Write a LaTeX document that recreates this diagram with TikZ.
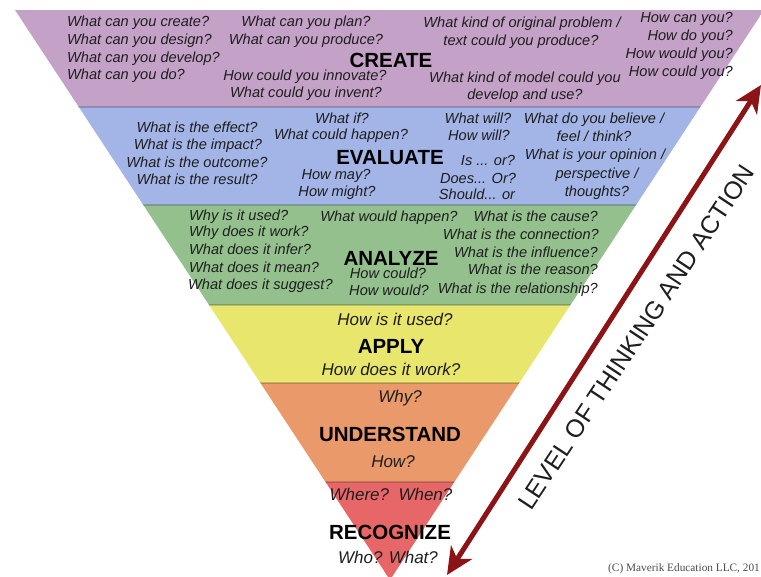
\documentclass[tikz,border=0pt]{standalone}
\usepackage{fontspec}
\setmainfont{Liberation Sans}
\newfontfamily\cprfont{Liberation Serif}
\usetikzlibrary{arrows.meta}
\definecolor{createc}{RGB}{196,161,198}
\definecolor{evalc}{RGB}{163,180,230}
\definecolor{analc}{RGB}{147,192,141}
\definecolor{applyc}{RGB}{232,230,108}
\definecolor{undc}{RGB}{234,153,106}
\definecolor{recc}{RGB}{231,103,105}
\definecolor{arrowc}{RGB}{140,20,22}
\definecolor{txt}{RGB}{30,30,30}
\newcommand\qsmall{\fontsize{14.6}{17}\selectfont\itshape}
\newcommand\qlarge{\fontsize{17}{20}\selectfont\itshape}
\newcommand\hdfont{\fontsize{20.5}{24}\selectfont\bfseries}
\tikzset{
  qbase/.style={inner sep=0pt, text=txt, font=\qsmall},
  qc/.style={qbase, anchor=mid},
  qlft/.style={qbase, anchor=mid west},
  qrt/.style={qbase, anchor=mid east},
  qbig/.style={inner sep=0pt, text=txt, font=\qlarge, anchor=mid},
  headn/.style={inner sep=0pt, text=black, font=\hdfont, anchor=center},
  bandline/.style={draw=black, draw opacity=0.18, line width=1.2pt},
  arrowln/.style={draw=arrowc, line width=5pt,
    arrows={Stealth[length=27pt,width=25pt,inset=8pt]-Stealth[length=27pt,width=25pt,inset=8pt]}},
}
\begin{document}
\begin{tikzpicture}[x=1pt,y=-1pt]
\useasboundingbox (0,0) rectangle (761,577);
\fill[white] (0,0) rectangle (761,577);
\begin{scope}
  \clip (15,10) -- (764,10) -- (390,580) -- cycle;
  \fill[createc] (0,10) rectangle (761,107);
  \fill[evalc]   (0,107) rectangle (761,205);
  \fill[analc]   (0,205) rectangle (761,305);
  \fill[applyc]  (0,305) rectangle (761,383);
  \fill[undc]    (0,383) rectangle (761,482);
  \fill[recc]    (0,482) rectangle (761,590);
  \draw[bandline] (0,107) -- (761,107);
  \draw[bandline] (0,205) -- (761,205);
  \draw[bandline] (0,305) -- (761,305);
  \draw[bandline] (0,383) -- (761,383);
  \draw[bandline] (0,482) -- (761,482);
\end{scope}

% CREATE
\node[qlft] (c1) at (67,24) {What can you create?};
\node[qlft] (c2) at (67,42) {What can you design?};
\node[qlft] (c3) at (67,60) {What can you develop?};
\node[qlft] (c4) at (67,77) {What can you do?};
\node[qc] (c5) at (306,24) {What can you plan?};
\node[qc] (c6) at (306,42) {What can you produce?};
\node[qc] (c7) at (305,78) {How could you innovate?};
\node[qc] (c8) at (306,95) {What could you invent?};
\node[qc] (c9) at (522,25) {What kind of original problem /};
\node[qc] (c10) at (521,43) {text could you produce?};
\node[qc] (c11) at (525,80) {What kind of model could you};
\node[qc] (c12) at (525,97) {develop and use?};
\node[qrt] (c13) at (733,20) {How can you?};
\node[qrt] (c14) at (733,38) {How do you?};
\node[qrt] (c15) at (733,56) {How would you?};
\node[qrt] (c16) at (733,74) {How could you?};
\node[headn] (create) at (391,60) {CREATE};

% EVALUATE
\node[qc] (e1) at (197,130) {What is the effect?};
\node[qc] (e2) at (198,147) {What is the impact?};
\node[qc] (e3) at (197,165) {What is the outcome?};
\node[qc] (e4) at (197,182) {What is the result?};
\node[qc] (e5) at (342,121) {What if?};
\node[qc] (e6) at (341,137) {What could happen?};
\node[qc] (e7) at (336,177) {How may?};
\node[qc] (e8) at (337,194) {How might?};
\node[qc] (e9) at (478,121) {What will?};
\node[qc] (e10) at (479,138) {How will?};
\node[qc] (e11) at (488,163) {Is ... or?};
\node[qc] (e12) at (478,181) {Does... Or?};
\node[qc] (e13) at (477,197) {Should... or};
\node[qc] (e14) at (594,121) {What do you believe /};
\node[qc] (e15) at (594,139) {feel / think?};
\node[qc] (e16) at (595,157) {What is your opinion /};
\node[qc] (e17) at (597,176) {perspective /};
\node[qc] (e18) at (597,194) {thoughts?};
\node[headn] (evaluate) at (390,158) {EVALUATE};

% ANALYZE
\node[qlft] (a1) at (189,218) {Why is it used?};
\node[qlft] (a2) at (189,234) {Why does it work?};
\node[qlft] (a3) at (189,252) {What does it infer?};
\node[qlft] (a4) at (189,270) {What does it mean?};
\node[qlft] (a5) at (188,287) {What does it suggest?};
\node[qc] (a6) at (389,219) {What would happen?};
\node[qc] (a7) at (388,276) {How could?};
\node[qc] (a8) at (389,293) {How would?};
\node[qrt] (a9) at (598,219) {What is the cause?};
\node[qrt] (a10) at (599,237) {What is the connection?};
\node[qrt] (a11) at (598,255) {What is the influence?};
\node[qrt] (a12) at (598,272) {What is the reason?};
\node[qrt] (a13) at (598,291) {What is the relationship?};
\node[headn] (analyze) at (391,258) {ANALYZE};

% APPLY
\node[qbig] (p1) at (395,323) {How is it used?};
\node[headn] (apply) at (391,346) {APPLY};
\node[qbig] (p2) at (391,373) {How does it work?};

% UNDERSTAND
\node[qbig] (u1) at (400,400) {Why?};
\node[headn] (understand) at (390,434) {UNDERSTAND};
\node[qbig] (u2) at (393,465) {How?};

% RECOGNIZE
\node[qbig] (r1) at (391,498) {Where?\ \ When?};
\node[headn] (recognize) at (390,532) {RECOGNIZE};
\node[qbig] (r2) at (388,561) {Who? What?};

% arrow and label
\coordinate (alo) at (447,575);
\coordinate (ahi) at (761,85);
\draw[arrowln] (alo) -- (ahi);
\node[rotate=56.5, anchor=base west, inner sep=0pt, text=txt,
      font=\fontsize{25}{30}\selectfont] (lvl) at (531,512)
      {LEVEL OF THINKING AND ACTION};

\node[anchor=mid east, inner sep=0pt, text=black!70,
      font=\cprfont\fontsize{11.3}{13}\selectfont] (cpr) at (760,569)
      {(C) Maverik Education LLC, 201};
\end{tikzpicture}
\end{document}
